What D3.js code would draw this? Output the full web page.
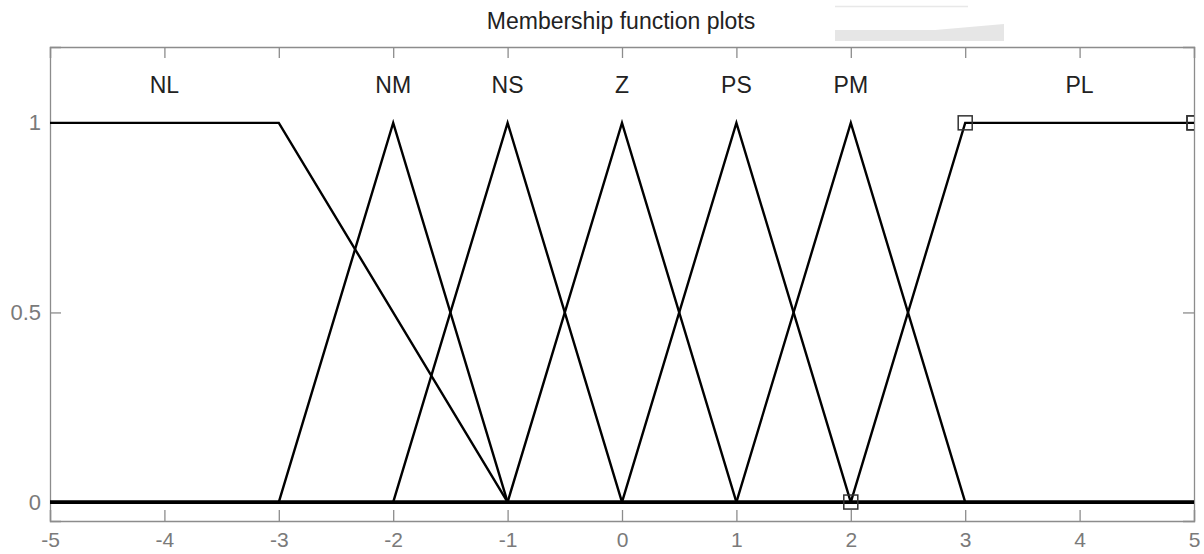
<!DOCTYPE html>
<html>
<head>
<meta charset="utf-8">
<script src="https://cdn.jsdelivr.net/npm/d3@7"></script>
<style>
  html, body { margin: 0; padding: 0; background: #fff; }
  svg { display: block; font-family: "Liberation Sans", Arial, Helvetica, sans-serif; }
</style>
</head>
<body>
<svg id="chart" width="1204" height="554"></svg>
<script>
// ---- data ----
const title = "Membership function plots";
const mfNames = ["NL", "NM", "NS", "Z", "PS", "PM", "PL"];
// breakpoints (x) of each membership function
const mfX = [
  [-5, -5, -3, -1],
  [-3, -2, -1],
  [-2, -1, 0],
  [-1, 0, 1],
  [0, 1, 2],
  [1, 2, 3],
  [2, 3, 5, 5]
];
// membership values at those breakpoints
const mfY = [
  [1, 1, 1, 0],
  [0, 1, 0],
  [0, 1, 0],
  [0, 1, 0],
  [0, 1, 0],
  [0, 1, 0],
  [0, 1, 1, 1]
];
// label x positions (centre of the peak / plateau)
const labelX = [-4, -2, -1, 0, 1, 2, 4];
const labelY = 1.1;
const selectedMF = "PL";
const xTicks = [-5, -4, -3, -2, -1, 0, 1, 2, 3, 4, 5];
const yTicks = [0, 0.5, 1];
const xDomain = [-5, 5];
const yDomain = [-0.05, 1.2];

// ---- layout ----
const svg = d3.select("#chart");
const L = 50, R = 1194, T = 47, B = 521;
const x = d3.scaleLinear().domain(xDomain).range([L, R]);
const y = d3.scaleLinear().domain(yDomain).range([B, T]);
const FS = 23, TFS = 22, XFS = 21;

svg.append("defs").append("clipPath").attr("id", "clip")
  .append("rect").attr("x", L).attr("y", T).attr("width", R - L).attr("height", B - T);

// decorative light-grey smudge near the title (as in the reference)
svg.append("line").attr("x1", 835).attr("x2", 968).attr("y1", 6.5).attr("y2", 6.5)
  .attr("stroke", "#e8e8e8").attr("stroke-width", 1.5);
svg.append("polygon")
  .attr("points", "835,30 935,30 1004,24 1004,41 835,41")
  .attr("fill", "#e6e6e6");

// title
svg.append("text").attr("x", (L + R) / 2 - 1).attr("y", 29)
  .attr("text-anchor", "middle").attr("font-size", FS).attr("fill", "#222")
  .text(title);

// axes (ticks inside)
const axisColor = "#8c8c8c";
const tickLen = 11;
const gx = svg.append("g").attr("transform", `translate(0,${B})`)
  .call(d3.axisBottom(x).tickValues(xTicks).tickSize(-tickLen).tickFormat(d => String(d)));
const gxt = svg.append("g").attr("transform", `translate(0,${T})`)
  .call(d3.axisTop(x).tickValues(xTicks).tickSize(-tickLen).tickFormat(""));
const gy = svg.append("g").attr("transform", `translate(${L},0)`)
  .call(d3.axisLeft(y).tickValues(yTicks).tickSize(-tickLen).tickPadding(9).tickFormat(d => String(d)));
const gyr = svg.append("g").attr("transform", `translate(${R},0)`)
  .call(d3.axisRight(y).tickValues(yTicks).tickSize(-tickLen).tickFormat(""));
[gx, gxt, gy, gyr].forEach(g => {
  g.attr("font-size", TFS).attr("font-family", "'Liberation Sans', Arial, sans-serif");
  g.select(".domain").attr("stroke", axisColor).attr("stroke-width", 1.3);
  g.selectAll(".tick line").attr("stroke", axisColor).attr("stroke-width", 1.3);
  g.selectAll(".tick text").attr("fill", "#7a7a7a").attr("font-size", TFS);
});
gx.selectAll(".tick text").attr("y", 19).attr("dy", "0.35em").attr("font-size", XFS);

// plot
const plot = svg.append("g").attr("clip-path", "url(#clip)");
const line = d3.line().x(d => x(d[0])).y(d => y(d[1]));

// the thick zero baseline formed by the zero parts of all functions
plot.append("line")
  .attr("x1", x(xDomain[0])).attr("x2", x(xDomain[1]))
  .attr("y1", y(0)).attr("y2", y(0))
  .attr("stroke", "#000").attr("stroke-width", 3.8);

mfNames.forEach((name, i) => {
  const pts = mfX[i].map((v, j) => [v, mfY[i][j]]);
  plot.append("path").attr("d", line(pts))
    .attr("fill", "none").attr("stroke", "#000").attr("stroke-width", 2.4)
    .attr("stroke-linejoin", "miter");
  if (name === selectedMF) {
    plot.selectAll(null).data(pts).enter().append("rect")
      .attr("x", d => x(d[0]) - 7).attr("y", d => y(d[1]) - 7)
      .attr("width", 14).attr("height", 14)
      .attr("fill", "none").attr("stroke", "#333").attr("stroke-width", 1.5);
  }
});

// labels
svg.selectAll(".mflabel").data(mfNames).enter().append("text")
  .attr("class", "mflabel")
  .attr("x", (d, i) => x(labelX[i])).attr("y", y(labelY))
  .attr("dy", "0.35em")
  .attr("text-anchor", "middle").attr("font-size", FS).attr("fill", "#222")
  .text(d => d);
</script>
</body>
</html>
